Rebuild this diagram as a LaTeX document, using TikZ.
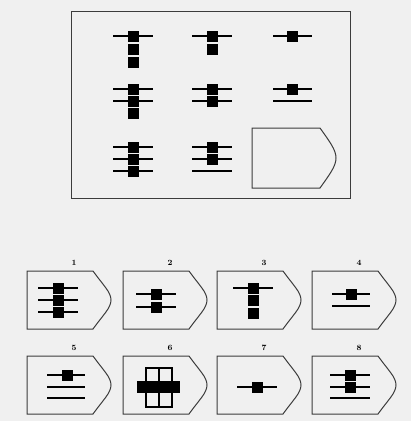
\documentclass[tikz,border=0pt]{standalone}
\usepackage{tikz}
\definecolor{paper}{RGB}{240,240,240}
\definecolor{ink}{RGB}{60,60,60}

\begin{document}
\begin{tikzpicture}[x=1pt, y=-1pt,
    bar/.style={line width=2pt, black},
    sq/.style={fill=black},
    card/.style={ink, line width=1pt},
    tag/.style={font=\fontsize{8}{8}\selectfont\bfseries, inner sep=0pt}]
    % 0. Background
    \useasboundingbox (0,0) rectangle (411,421);
    \fill[paper] (0,0) rectangle (411,421);

    % 1. Frame of the puzzle
    \draw[card] (71,11) rectangle (350,198);

    % Row 1
    \draw[bar] (113,36) -- (153,36);
    \foreach \y in {36,49,62} \fill[sq] (127.5,\y-5.5) rectangle ++(11,11);
    \draw[bar] (192,36) -- (232,36);
    \foreach \y in {36,49} \fill[sq] (206.5,\y-5.5) rectangle ++(11,11);
    \draw[bar] (273,36) -- (312,36);
    \fill[sq] (286.5,30.5) rectangle ++(11,11);

    % Row 2
    \foreach \y in {89,101} \draw[bar] (113,\y) -- (153,\y);
    \foreach \y in {89,101,113} \fill[sq] (127.5,\y-5.5) rectangle ++(11,11);
    \foreach \y in {89,101} \draw[bar] (192,\y) -- (232,\y);
    \foreach \y in {89,101} \fill[sq] (206.5,\y-5.5) rectangle ++(11,11);
    \foreach \y in {89,101} \draw[bar] (273,\y) -- (312,\y);
    \fill[sq] (286.5,83.5) rectangle ++(11,11);

    % Row 3
    \foreach \y in {147,159,171} \draw[bar] (113,\y) -- (153,\y);
    \foreach \y in {147,159,171} \fill[sq] (127.5,\y-5.5) rectangle ++(11,11);
    \foreach \y in {147,159,171} \draw[bar] (192,\y) -- (232,\y);
    \foreach \y in {147,159} \fill[sq] (206.5,\y-5.5) rectangle ++(11,11);

    % Empty card
    \draw[card] (252,128) -- (320,128) .. controls (330,142) and (336,150) .. (336,158)
        .. controls (336,166) and (330,174) .. (320,188) -- (252,188) -- cycle;

    % 2. Answer cards with their numbers
    \foreach \l/\t/\n in {27/271/1, 123/271/2, 217/271/3, 312/271/4,
                          27/356/5, 123/356/6, 217/356/7, 312/356/8} {
        \draw[card] (\l,\t) -- (\l+66,\t) .. controls (\l+76,\t+14) and (\l+84,\t+21) .. (\l+84,\t+29)
            .. controls (\l+84,\t+37) and (\l+76,\t+44) .. (\l+66,\t+58) -- (\l,\t+58) -- cycle;
        \node[tag] (lab\n) at (\l+47,\t-8) {\n};
    }

    % Card 1
    \foreach \y in {288,300,312} \draw[bar] (38,\y) -- (78,\y);
    \foreach \y in {288,300,312} \fill[sq] (52.5,\y-5.5) rectangle ++(11,11);
    % Card 2
    \foreach \y in {294,307} \draw[bar] (136,\y) -- (176,\y);
    \foreach \y in {294,307} \fill[sq] (150.5,\y-5.5) rectangle ++(11,11);
    % Card 3
    \draw[bar] (233,288) -- (273,288);
    \foreach \y in {288,300,313} \fill[sq] (247.5,\y-5.5) rectangle ++(11,11);
    % Card 4
    \foreach \y in {294,306} \draw[bar] (332,\y) -- (370,\y);
    \fill[sq] (345.5,288.5) rectangle ++(11,11);

    % Card 5
    \foreach \y in {375,387,398} \draw[bar] (47,\y) -- (85,\y);
    \fill[sq] (61.5,369.5) rectangle ++(11,11);
    % Card 6
    \draw[line width=1.4pt] (146,368) rectangle (172,407);
    \draw[line width=1.4pt] (159,368) -- (159,407);
    \fill[sq] (137,381) rectangle (180,393);
    % Card 7
    \draw[bar] (237,387) -- (277,387);
    \fill[sq] (251.5,381.5) rectangle ++(11,11);
    % Card 8
    \foreach \y in {375,387,398} \draw[bar] (330,\y) -- (370,\y);
    \foreach \y in {375,387} \fill[sq] (344.5,\y-5.5) rectangle ++(11,11);

\end{tikzpicture}
\end{document}
